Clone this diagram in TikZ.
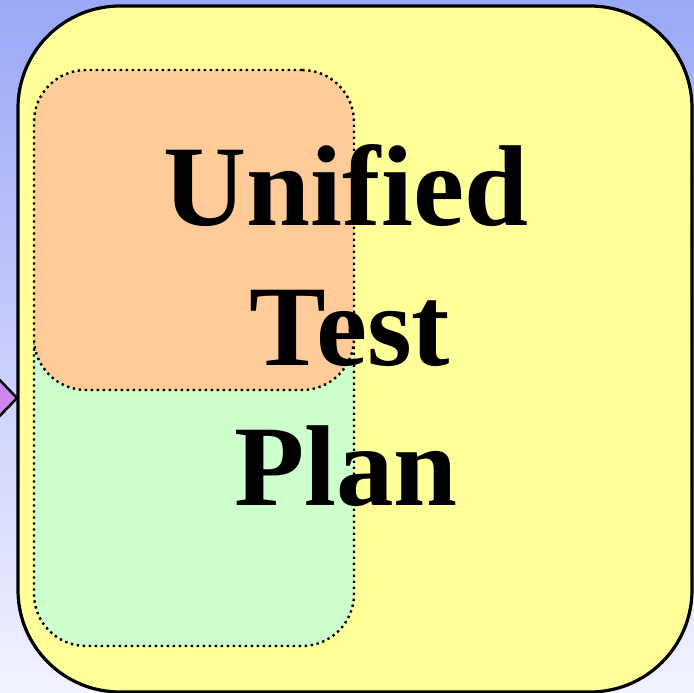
\documentclass[tikz,border=0pt]{standalone}
\usepackage{fontspec}
\setmainfont{Liberation Serif}
\usetikzlibrary{shapes.geometric}
\definecolor{bgtop}{RGB}{154,168,246}
\definecolor{bgmid}{RGB}{214,218,251}
\definecolor{bgbot}{RGB}{242,242,255}
\definecolor{planyellow}{RGB}{255,255,153}
\definecolor{planorange}{RGB}{255,204,153}
\definecolor{plangreen}{RGB}{204,255,204}
\definecolor{arrowpurple}{RGB}{204,136,238}
\tikzset{
  outerbox/.style={draw=black, line width=3.2pt, fill=planyellow, rounded corners=102pt,
    rectangle, inner sep=0pt},
  innerbox/.style={draw=black, line width=2.4pt, dash pattern=on 2.4pt off 3.6pt,
    rounded corners=52pt, rectangle, inner sep=0pt},
  titleword/.style={font=\fontsize{115}{115}\selectfont\bfseries, anchor=base, inner sep=0pt},
}
\begin{document}
\begin{tikzpicture}[x=1pt, y=-1pt]
  % page frame and vertical background gradient
  \useasboundingbox (0,0) rectangle (694,693);
  \shade[top color=bgtop, middle color=bgmid, bottom color=bgbot] (0,0) rectangle (694,693);
  % partly visible pointer on the left edge
  \begin{scope}
    \clip (0,0) rectangle (694,693);
    \draw[line width=2.5pt, fill=arrowpurple] (-8,372) -- (17,398) -- (-8,424) -- cycle;
  \end{scope}
  % main plan container
  \node[outerbox, minimum width=674pt, minimum height=686pt] (plan) at (355,349) {};
  % inner sections
  \node[innerbox, fill=plangreen, minimum width=320pt, minimum height=346pt] (lower) at (194,473) {};
  \node[innerbox, fill=planorange, minimum width=320pt, minimum height=320pt] (upper) at (194,230) {};
  % title
  \node[titleword] (w1) at (346,225) {Unified};
  \node[titleword] (w2) at (350,365) {Test};
  \node[titleword] (w3) at (346,505) {Plan};
\end{tikzpicture}
\end{document}
